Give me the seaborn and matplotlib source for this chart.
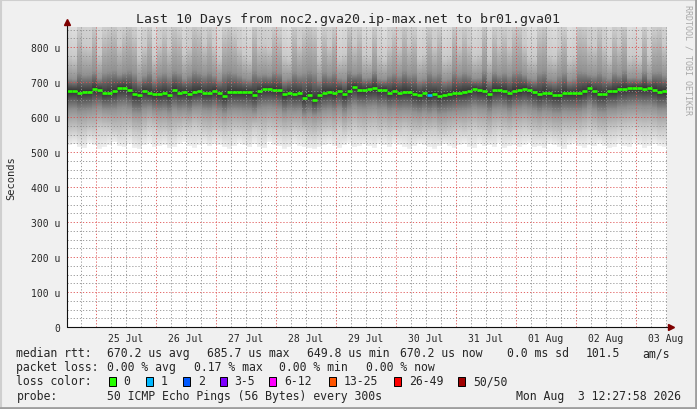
import numpy as np
import pandas as pd
import matplotlib
matplotlib.use("Agg")
import matplotlib.pyplot as plt
import matplotlib.dates as mdates
from matplotlib.ticker import MultipleLocator, FuncFormatter, NullFormatter
from matplotlib.patches import Rectangle
from matplotlib.lines import Line2D
import seaborn as sns

# time span: last 10 days, 2 hour buckets
END = pd.Timestamp("2026-08-03 12:27:58")
START = END - pd.Timedelta(days=10)

# median rtt per bucket, in microseconds
median_us = [
    675, 675, 670, 672, 672, 680, 678, 668, 670, 673, 683, 683, 677, 665, 664,
    674, 669, 666, 666, 669, 664, 676, 670, 672, 667, 672, 674, 669, 669, 675,
    668, 660, 671, 672, 672, 672, 671, 664, 675, 680, 680, 678, 676, 665, 670,
    667, 668, 655, 663, 650, 662, 670, 672, 668, 675, 665, 675, 686, 677, 677,
    680, 682, 677, 678, 670, 673, 670, 672, 671, 666, 663, 668, 663, 667, 660,
    663, 665, 668, 670, 671, 674, 680, 676, 675, 666, 677, 678, 675, 668, 675,
    676, 680, 676, 671, 665, 670, 668, 663, 662, 669, 668, 668, 668, 673, 682,
    674, 666, 665, 673, 673, 679, 679, 682, 683, 683, 681, 682, 678, 672, 673,
]

# lost pings per bucket
loss = [0] * 72 + [1] + [0] * 47

# smoke: spread of the ping rtts in each bucket (us)
ping_min = [
    520, 524, 515, 512, 526, 520, 510, 514, 522, 528, 518, 516, 524, 512, 508,
    520, 526, 514, 518, 522, 512, 516, 524, 528, 519, 513, 521, 525, 517, 523,
    522, 514, 510, 518, 526, 520, 514, 524, 516, 512, 528, 522, 518, 510, 515,
    523, 519, 514, 512, 508, 516, 521, 525, 518, 512, 520, 526, 514, 519, 523,
    518, 512, 524, 520, 514, 526, 522, 516, 510, 518, 524, 520, 515, 509, 517,
    523, 519, 513, 521, 525, 516, 512, 524, 518, 520, 514, 526, 511, 517, 522,
    516, 522, 526, 514, 518, 512, 524, 520, 516, 510, 522, 526, 518, 513, 521,
    517, 525, 519, 512, 516, 523, 518, 514, 526, 520, 512, 517, 524, 519, 515,
]
ping_p10 = [
    560, 562, 556, 558, 565, 562, 572, 570, 568, 560, 558, 562, 566, 556, 554,
    564, 574, 570, 560, 562, 556, 560, 566, 572, 568, 575, 570, 562, 558, 564,
    562, 556, 560, 566, 564, 562, 558, 570, 566, 560, 568, 564, 560, 556, 558,
    566, 562, 560, 552, 550, 556, 564, 566, 560, 570, 558, 566, 574, 566, 562,
    568, 570, 564, 566, 560, 564, 562, 568, 564, 558, 556, 562, 560, 562, 554,
    556, 560, 564, 566, 562, 568, 572, 566, 564, 556, 566, 570, 564, 560, 566,
    566, 570, 566, 560, 556, 562, 560, 556, 554, 562, 560, 562, 560, 566, 572,
    566, 558, 556, 564, 566, 570, 572, 574, 576, 572, 570, 572, 568, 562, 564,
]
ping_p25 = [
    621, 622, 616, 618, 620, 624, 628, 621, 620, 621, 626, 628, 624, 612, 611,
    622, 626, 618, 616, 618, 612, 623, 618, 621, 616, 626, 626, 620, 618, 623,
    618, 610, 618, 621, 620, 618, 618, 612, 623, 626, 628, 626, 623, 612, 618,
    616, 618, 604, 611, 604, 610, 618, 621, 616, 624, 612, 623, 632, 626, 624,
    628, 630, 624, 626, 618, 621, 618, 620, 619, 614, 611, 616, 611, 616, 608,
    611, 614, 616, 618, 619, 622, 628, 624, 623, 614, 624, 626, 623, 616, 623,
    624, 628, 624, 619, 613, 618, 616, 611, 610, 617, 616, 616, 616, 621, 630,
    622, 614, 613, 621, 621, 626, 627, 630, 631, 631, 629, 630, 626, 620, 621,
]
ping_p75 = [
    711, 709, 731, 721, 722, 733, 712, 728, 732, 735, 723, 730, 736, 727, 708,
    720, 733, 710, 722, 729, 719, 734, 728, 711, 721, 736, 730, 723, 732, 720,
    709, 730, 734, 728, 721, 713, 710, 735, 722, 724, 720, 733, 729, 708, 711,
    732, 722, 728, 736, 730, 707, 731, 721, 733, 712, 710, 735, 724, 731, 713,
    714, 734, 711, 709, 721, 729, 720, 735, 723, 728, 708, 711, 733, 721, 730,
    707, 710, 734, 722, 731, 723, 711, 713, 736, 708, 732, 722, 729, 720, 733,
    735, 723, 712, 709, 729, 734, 710, 708, 720, 730, 707, 711, 734, 731, 723,
    721, 732, 720, 711, 731, 722, 736, 713, 714, 712, 733, 711, 730, 732, 721,
]
ping_p90 = [
    778, 772, 850, 808, 802, 862, 780, 842, 855, 866, 810, 848, 870, 840, 774,
    805, 858, 770, 812, 850, 800, 864, 845, 782, 806, 868, 852, 812, 856, 804,
    772, 846, 860, 842, 806, 780, 770, 864, 808, 812, 800, 856, 840, 776, 768,
    860, 810, 848, 868, 852, 774, 848, 806, 858, 772, 782, 862, 812, 850, 778,
    774, 855, 780, 768, 808, 846, 804, 866, 812, 844, 772, 782, 858, 806, 848,
    770, 776, 862, 808, 852, 812, 774, 782, 868, 770, 850, 810, 845, 804, 856,
    862, 810, 774, 770, 850, 864, 780, 772, 806, 846, 768, 776, 862, 854, 812,
    804, 858, 806, 776, 850, 812, 864, 772, 780, 770, 855, 774, 846, 860, 808,
]
ping_max = [
    960, 940, 1280, 1100, 1080, 1350, 980, 1250, 1300, 1380, 1120, 1260, 1400, 1240, 950,
    1090, 1320, 930, 1120, 1290, 1070, 1340, 1260, 970, 1100, 1380, 1290, 1130, 1310, 1080,
    950, 1280, 1340, 1260, 1090, 980, 940, 1370, 1100, 1130, 1080, 1320, 1250, 960, 930,
    1330, 1110, 1280, 1390, 1300, 950, 1290, 1090, 1320, 950, 980, 1350, 1120, 1300, 960,
    960, 1320, 980, 930, 1100, 1280, 1090, 1370, 1120, 1270, 950, 980, 1330, 1100, 1280,
    940, 960, 1350, 1100, 1310, 1120, 950, 980, 1390, 940, 1300, 1110, 1270, 1090, 1320,
    1350, 1110, 950, 940, 1300, 1360, 980, 950, 1100, 1280, 930, 960, 1350, 1320, 1120,
    1090, 1330, 1100, 960, 1300, 1120, 1360, 950, 980, 940, 1320, 960, 1280, 1350, 1100,
]

loss_labels = ["0", "1", "2", "3-5", "6-12", "13-25", "26-49", "50/50"]
loss_colors = ["#26ff00", "#00b8ff", "#0059ff", "#7e00ff",
               "#ff00ff", "#ff5500", "#ff0000", "#a10000"]

W, H = 697, 410
Y_TOP = 300 / 0.35  # ~857 us at the top of the canvas

sns.set_style("white")
plt.rcParams["font.family"] = ["DejaVu Sans Mono", "DejaVu Sans"]

fig = plt.figure(figsize=(W / 100, H / 100), dpi=100, facecolor="#f0f0f0")
ax = fig.add_axes([67 / W, (H - 328) / H, 600 / W, 300 / H])
ax.set_facecolor("white")

n = len(median_us)
edges = pd.date_range(START, END, periods=n + 1)
x_edges = mdates.date2num(edges.to_pydatetime())

# smoke, shaded by rank distance from the median (smokeping style)
qs = np.vstack([ping_min, ping_p10, ping_p25, median_us,
                ping_p75, ping_p90, ping_max]).astype(float)
frac = np.array([0, 0.1, 0.25, 0.5, 0.75, 0.9, 1.0])
y_edges = np.linspace(0, Y_TOP, 601)
yc = (y_edges[:-1] + y_edges[1:]) / 2
shade = np.full((len(yc), n), np.nan)
for j in range(n):
    F = np.interp(yc, qs[:, j], frac, left=np.nan, right=np.nan)
    d = np.minimum(F, 1 - F)
    shade[:, j] = 50 + 190 * (1 - 2 * d)
ax.pcolormesh(x_edges, y_edges, np.ma.masked_invalid(shade), cmap="gray",
              vmin=0, vmax=255, shading="flat", zorder=1)

# median line, coloured by loss
seg_colors = [loss_colors[l] for l in loss]
ax.hlines(median_us, x_edges[:-1], x_edges[1:], colors=seg_colors,
          linewidth=1.9, zorder=4)

ax.set_xlim(x_edges[0], x_edges[-1])
ax.set_ylim(0, Y_TOP)

# grid
ax.set_axisbelow(False)
ax.xaxis.set_major_locator(mdates.HourLocator(byhour=[0]))
ax.xaxis.set_minor_locator(mdates.HourLocator(byhour=[0, 6, 12, 18]))
ax.xaxis.set_major_formatter(NullFormatter())
ax.xaxis.set_minor_formatter(FuncFormatter(
    lambda v, p: mdates.num2date(v).strftime("%d %b") if mdates.num2date(v).hour == 12 else ""))
ax.yaxis.set_major_locator(MultipleLocator(100))
ax.yaxis.set_minor_locator(MultipleLocator(25))
ax.yaxis.set_major_formatter(FuncFormatter(lambda v, p: "0" if v == 0 else f"{v:.0f} u"))

dot = (0, (1.5, 2.2))
ax.grid(which="minor", color=(0.56, 0.56, 0.56, 0.5), linestyle=dot, linewidth=0.6)
ax.grid(which="major", color=(0.87, 0.31, 0.31, 0.55), linestyle=dot, linewidth=0.6)
ax.tick_params(which="both", length=0)
ax.tick_params(axis="y", labelsize=7, pad=5)
ax.tick_params(axis="x", which="minor", labelsize=7, pad=4)

for s in ax.spines.values():
    s.set_visible(False)
ax.plot([0, 0], [0, 1.02], transform=ax.transAxes, color="#101010", lw=0.8, clip_on=False, zorder=5)
ax.plot([0, 1.006], [0, 0], transform=ax.transAxes, color="#101010", lw=0.8, clip_on=False, zorder=5)
ax.plot([0], [1.0175], marker="^", markersize=4.5, color="#7f0000", transform=ax.transAxes, clip_on=False, zorder=6)
ax.plot([1.006], [0], marker=">", markersize=4.5, color="#7f0000", transform=ax.transAxes, clip_on=False, zorder=6)


def ftext(x, y, s, **kw):
    fig.text(x / W, 1 - y / H, s, va="center", **kw)


ftext(348, 19, "Last 10 Days from noc2.gva20.ip-max.net to br01.gva01", ha="center", size=9.5)
ftext(11, 178, "Seconds", ha="center", rotation=90, size=7.5)
ftext(688, 60, "RRDTOOL / TOBI OETIKER", ha="center", rotation=270, size=6, color="#a8a8a8")

LS = 8.3
ftext(16.5, 354, "median rtt:", size=LS)
for x, s in [(107.3, "670.2 us avg"), (207.3, "685.7 us max"), (307.3, "649.8 us min"),
             (400, "670.2 us now"), (507.3, "0.0 ms sd"), (586, "101.5"), (642.3, "am/s")]:
    ftext(x, 354, s, size=LS)
ftext(16.5, 368, "packet loss:", size=LS)
for x, s in [(107.3, "0.00 % avg"), (194, "0.17 % max"), (279.3, "0.00 % min"), (365.7, "0.00 % now")]:
    ftext(x, 368, s, size=LS)
ftext(16.5, 382, "loss color:", size=LS)
box_x = [108.7, 145.7, 183, 219.7, 269.3, 329, 394, 458.3]
for bx, lab, col in zip(box_x, loss_labels, loss_colors):
    fig.add_artist(Rectangle((bx / W, 1 - 386.7 / H), 6.8 / W, 9.2 / H, transform=fig.transFigure,
                             facecolor=col, edgecolor="black", lw=0.7))
    ftext(bx + 14.8, 382, lab, size=LS)
ftext(16.5, 397, "probe:", size=LS)
ftext(107.3, 397, "50 ICMP Echo Pings (56 Bytes) every 300s", size=LS)
ftext(681, 397, "Mon Aug  3 12:27:58 2026", ha="right", size=LS)

# 3d frame
fig.add_artist(Line2D([0, 1], [1 - 0.5 / H, 1 - 0.5 / H], transform=fig.transFigure, color="#cfcfcf", lw=1.5))
fig.add_artist(Line2D([0.5 / W, 0.5 / W], [0, 1], transform=fig.transFigure, color="#cfcfcf", lw=1.5))
fig.add_artist(Line2D([0, 1], [1.5 / H, 1.5 / H], transform=fig.transFigure, color="#9e9e9e", lw=2))
fig.add_artist(Line2D([1 - 1.5 / W, 1 - 1.5 / W], [0, 1], transform=fig.transFigure, color="#9e9e9e", lw=2))

fig.savefig("out.png", dpi=100, facecolor=fig.get_facecolor())
